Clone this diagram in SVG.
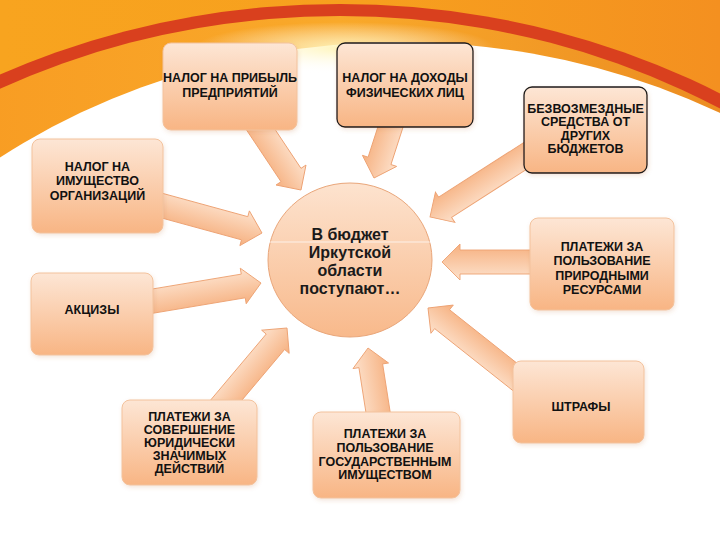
<svg xmlns="http://www.w3.org/2000/svg" width="720" height="540" viewBox="0 0 720 540">
<defs>
<linearGradient id="bgTop" x1="0" y1="0" x2="1" y2="0">
<stop offset="0" stop-color="#f8a41f"/>
<stop offset="0.5" stop-color="#f7a01e"/>
<stop offset="1" stop-color="#f49020"/>
</linearGradient>
<linearGradient id="band" x1="0" y1="0" x2="1" y2="0">
<stop offset="0" stop-color="#f7901c"/>
<stop offset="0.5" stop-color="#f9a92a"/>
<stop offset="1" stop-color="#e0731a"/>
</linearGradient>
<radialGradient id="glow" cx="0.5" cy="0.5" r="0.5">
<stop offset="0" stop-color="#fff4b5" stop-opacity="0.95"/>
<stop offset="1" stop-color="#ffffff" stop-opacity="0"/>
</radialGradient>
<linearGradient id="boxFill" x1="0" y1="0" x2="0" y2="1">
<stop offset="0" stop-color="#fde6d5"/>
<stop offset="1" stop-color="#f8b584"/>
</linearGradient>
<linearGradient id="circFill" x1="0" y1="0" x2="0" y2="1">
<stop offset="0" stop-color="#fde3cf"/>
<stop offset="1" stop-color="#f8b98b"/>
</linearGradient>
<linearGradient id="arrFill" x1="0" y1="0" x2="0" y2="1">
<stop offset="0" stop-color="#fde2cd"/>
<stop offset="1" stop-color="#f6b07f"/>
</linearGradient>
<filter id="sh" x="-10%" y="-10%" width="125%" height="125%">
<feDropShadow dx="1" dy="2" stdDeviation="2" flood-color="#c07040" flood-opacity="0.18"/>
</filter>
</defs>
<style>
.box{fill:url(#boxFill);stroke:#f3c29c;stroke-width:1;filter:url(#sh)}
.dark{stroke:#1a1a1a;stroke-width:1.3}
.lbl{font-family:"Liberation Sans",Arial,sans-serif;font-weight:bold;font-size:12.5px;fill:#111;text-anchor:middle}
.ctr{font-family:"Liberation Sans",Arial,sans-serif;font-weight:bold;font-size:16px;fill:#1a1a1a;text-anchor:middle}
.arr{fill:url(#arrFill);stroke:#eda273;stroke-width:0.9;stroke-linejoin:miter}
</style>

<g id="background">
<rect x="0" y="0" width="720" height="540" fill="url(#bgTop)"/>
<ellipse cx="340" cy="640" rx="743" ry="636" fill="#d9401e"/>
<ellipse cx="340" cy="640" rx="725" ry="624" fill="url(#band)"/>
<ellipse cx="400" cy="640" rx="677" ry="598" fill="#ffffff"/>
<ellipse cx="345" cy="48" rx="150" ry="26" fill="url(#glow)"/>
</g>

<g id="connectors">
<polygon class="arr" transform="translate(301,190) rotate(56.3)" points="-85,-12 -18,-12 -18,-18 0,0 -18,18 -18,12 -85,12"/>
<polygon class="arr" transform="translate(374,178) rotate(107.9)" points="-62,-12 -18,-12 -18,-18 0,0 -18,18 -18,12 -62,12"/>
<polygon class="arr" transform="translate(430,217) rotate(147.3)" points="-125,-12 -18,-12 -18,-18 0,0 -18,18 -18,12 -125,12"/>
<polygon class="arr" transform="translate(442,262) rotate(180)" points="-98,-12 -18,-12 -18,-18 0,0 -18,18 -18,12 -98,12"/>
<polygon class="arr" transform="translate(428,308) rotate(218.4)" points="-125,-12 -18,-12 -18,-18 0,0 -18,18 -18,12 -125,12"/>
<polygon class="arr" transform="translate(287,328) rotate(-49.9)" points="-115,-12 -18,-12 -18,-18 0,0 -18,18 -18,12 -115,12"/>
<polygon class="arr" transform="translate(368,348) rotate(-98.9)" points="-75,-12 -18,-12 -18,-18 0,0 -18,18 -18,12 -75,12"/>
<polygon class="arr" transform="translate(261,283) rotate(-9.5)" points="-118,-12 -18,-12 -18,-18 0,0 -18,18 -18,12 -118,12"/>
<polygon class="arr" transform="translate(262,233) rotate(15.3)" points="-110,-12 -18,-12 -18,-18 0,0 -18,18 -18,12 -110,12"/>
</g>

<g id="center">
<ellipse cx="350" cy="260" rx="82" ry="77" fill="url(#circFill)" stroke="#e9a67a" stroke-width="1"/>
<line x1="269" y1="242" x2="431" y2="242" stroke="#ffffff" stroke-opacity="0.7" stroke-width="1"/>
<text class="ctr" x="350" y="240">В бюджет</text>
<text class="ctr" x="350" y="258">Иркутской</text>
<text class="ctr" x="350" y="276">области</text>
<text class="ctr" x="350" y="294">поступают…</text>
</g>

<g id="n1">
<rect class="box" x="163" y="43" width="134" height="87" rx="8"/>
<text class="lbl" x="230" y="81.5">НАЛОГ НА ПРИБЫЛЬ</text>
<text class="lbl" x="230" y="96.5">ПРЕДПРИЯТИЙ</text>
</g>
<g id="n2">
<rect class="box dark" x="337" y="43" width="136" height="84" rx="8"/>
<text class="lbl" x="405" y="81.5">НАЛОГ НА ДОХОДЫ</text>
<text class="lbl" x="405" y="96.5">ФИЗИЧЕСКИХ ЛИЦ</text>
</g>
<g id="n3">
<rect class="box dark" x="524" y="87" width="123" height="86" rx="8"/>
<text class="lbl" x="585.5" y="112.5">БЕЗВОЗМЕЗДНЫЕ</text>
<text class="lbl" x="585.5" y="126">СРЕДСТВА ОТ</text>
<text class="lbl" x="585.5" y="139.5">ДРУГИХ</text>
<text class="lbl" x="585.5" y="153">БЮДЖЕТОВ</text>
</g>
<g id="n4">
<rect class="box" x="32" y="139" width="131" height="94" rx="8"/>
<text class="lbl" x="97.5" y="170.5">НАЛОГ НА</text>
<text class="lbl" x="97.5" y="185">ИМУЩЕСТВО</text>
<text class="lbl" x="97.5" y="199.5">ОРГАНИЗАЦИЙ</text>
</g>
<g id="n5">
<rect class="box" x="31" y="273" width="122" height="82" rx="8"/>
<text class="lbl" x="92" y="313.5">АКЦИЗЫ</text>
</g>
<g id="n6">
<rect class="box" x="530" y="218" width="144" height="92" rx="8"/>
<text class="lbl" x="602" y="250.5">ПЛАТЕЖИ ЗА</text>
<text class="lbl" x="602" y="265">ПОЛЬЗОВАНИЕ</text>
<text class="lbl" x="602" y="279.5">ПРИРОДНЫМИ</text>
<text class="lbl" x="602" y="294">РЕСУРСАМИ</text>
</g>
<g id="n7">
<rect class="box" x="513" y="361" width="131" height="82" rx="8"/>
<text class="lbl" x="581" y="410.5">ШТРАФЫ</text>
</g>
<g id="n8">
<rect class="box" x="122" y="400" width="135" height="85" rx="8"/>
<text class="lbl" x="189.5" y="420.5">ПЛАТЕЖИ ЗА</text>
<text class="lbl" x="189.5" y="433.5">СОВЕРШЕНИЕ</text>
<text class="lbl" x="189.5" y="446.5">ЮРИДИЧЕСКИ</text>
<text class="lbl" x="189.5" y="459.5">ЗНАЧИМЫХ</text>
<text class="lbl" x="189.5" y="472.5">ДЕЙСТВИЙ</text>
</g>
<g id="n9">
<rect class="box" x="313" y="412" width="147" height="86" rx="8"/>
<text class="lbl" x="385" y="437.5">ПЛАТЕЖИ ЗА</text>
<text class="lbl" x="385" y="451.5">ПОЛЬЗОВАНИЕ</text>
<text class="lbl" x="385" y="465.5">ГОСУДАРСТВЕННЫМ</text>
<text class="lbl" x="385" y="478.5">ИМУЩЕСТВОМ</text>
</g>
</svg>
